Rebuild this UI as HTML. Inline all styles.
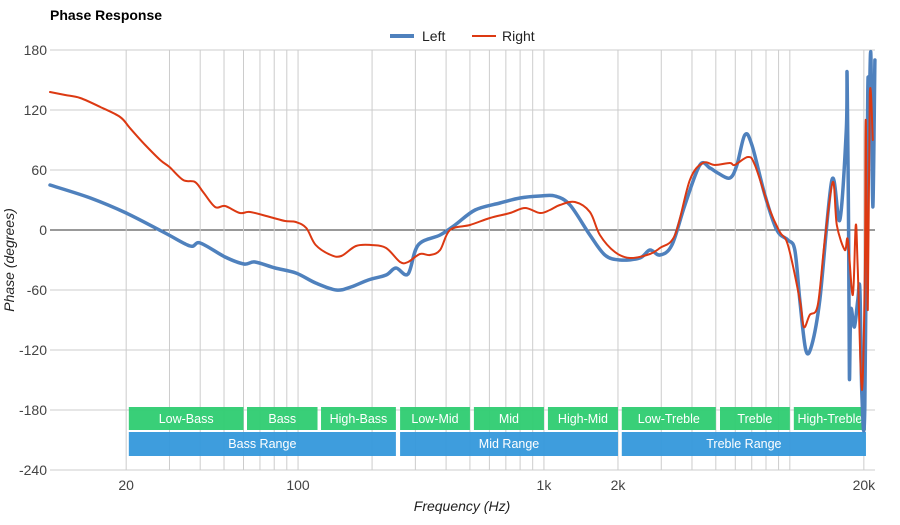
<!DOCTYPE html>
<html><head><meta charset="utf-8"><style>
body{margin:0;background:#fff;font-family:"Liberation Sans",Arial,sans-serif}
svg text{font-family:"Liberation Sans",Arial,sans-serif}
</style></head><body>
<svg id="chart" width="900" height="520" viewBox="0 0 900 520" xmlns="http://www.w3.org/2000/svg">
<rect width="900" height="520" fill="#fff"/>
<text x="50" y="20" font-size="14" font-weight="bold" fill="#000">Phase Response</text>
<g>
<line x1="390" y1="36" x2="414" y2="36" stroke="#4f81bd" stroke-width="4"/>
<text x="422" y="41" font-size="14" fill="#222">Left</text>
<line x1="472" y1="36" x2="496" y2="36" stroke="#dc3912" stroke-width="2"/>
<text x="502" y="41" font-size="14" fill="#222">Right</text>
</g>
<g id="grid"></g><g id="bands"></g><g id="series"></g><g id="labels"></g>
<text x="462" y="511" font-size="14" font-style="italic" text-anchor="middle" fill="#222">Frequency (Hz)</text>
<text transform="translate(14,260) rotate(-90)" font-size="14" font-style="italic" text-anchor="middle" fill="#222">Phase (degrees)</text>
</svg>
<script>
const yTicks=[180,120,60,0,-60,-120,-180,-240];
const xGridFreqs=[20,30,40,50,60,70,80,90,100,200,300,400,500,600,700,800,900,1000,2000,3000,4000,5000,6000,7000,8000,9000,10000,20000];
const xTickFreqs=[20,100,1000,2000,20000];
const xTickLabels=["20","100","1k","2k","20k"];
const bandNames=["Low-Bass","Bass","High-Bass","Low-Mid","Mid","High-Mid","Low-Treble","Treble","High-Treble"];
const bandStart=[20.5,62,124,260,519,1038,2073,5200,10380];
const bandEnd=[60,120,250,500,1000,2000,5000,10000,20400];
const rangeNames=["Bass Range","Mid Range","Treble Range"];
const rangeStart=[20.5,260,2073];
const rangeEnd=[250,2000,20400];
const leftFreq=[9.8,14.3,20,28.8,36.4,40,50.5,60.3,66.8,80.7,98,118,143,164,193,228,250,280,308,378,435,525,662,799,964,1109,1276,1538,1770,2036,2455,2698,2962,3315,3743,4306,4729,5094,5702,6094,6562,7012,7914,8851,9818,10476,10980,11610,12280,13240,14830,15970,16970,17090,17340,17460,17700,18300,18900,19270,19630,20180,20750,20950,21350,21740,22180];
const leftPhase=[45,32,17,-3,-16,-13,-27,-34,-32,-38,-43,-53,-60,-57,-50,-45,-38,-44,-15,-5,5,20,27,32,34,34,25,-5,-25,-30,-28,-20,-25,-15,25,65,62,57,52,65,95,85,35,0,-10,-20,-70,-120,-115,-70,50,10,100,155,0,-148,-80,-97,-70,-60,-165,-177,140,100,177,23,170];
const rightFreq=[9.8,11.3,13,15.7,18.9,20.7,23.9,27.5,30,34.1,38.1,41.1,46,50.5,58,63.8,76.9,88.6,98,108,118,136,150,172,198,228,260,280,313,344,378,415,500,603,728,838,964,1057,1161,1337,1538,1689,1944,2237,2698,2962,3411,3921,4430,4955,5702,5974,6751,7210,8293,9106,9818,10980,11400,12050,12990,13870,14960,15530,16730,17210,18040,18540,18890,19630,20180,20370,20750,21150,21740];
const rightPhase=[138,135,132,123,113,102,85,70,63,50,48,38,23,24,17,18,13,9,8,2,-15,-25,-26,-16,-15,-18,-32,-32,-24,-25,-20,0,5,12,17,22,17,20,25,28,18,-5,-22,-28,-24,-18,-5,50,67,65,67,65,73,65,20,-2,-15,-70,-97,-85,-75,-10,48,5,-20,-10,-65,5,-40,-160,-45,110,-80,135,90];

const L=50,R=875,T=50,B=470,fmin=9.8,fmax=22200,vmin=-240,vmax=180;
const xs=f=>L+(Math.log10(f)-Math.log10(fmin))/(Math.log10(fmax)-Math.log10(fmin))*(R-L);
const ys=v=>T+(vmax-v)/(vmax-vmin)*(B-T);
const NS="http://www.w3.org/2000/svg";
function mk(tag,attrs,parent){const e=document.createElementNS(NS,tag);for(const k in attrs)e.setAttribute(k,attrs[k]);parent.appendChild(e);return e;}
const grid=document.getElementById('grid'),bands=document.getElementById('bands'),series=document.getElementById('series'),labels=document.getElementById('labels');
yTicks.forEach(v=>{
  const ln=mk('line',{x1:L,x2:R,y1:ys(v),y2:ys(v),stroke:v===0?'#333':'#ccc','stroke-width':1},grid);
  
  
  const t=mk('text',{x:47,y:ys(v)+5,'font-size':14,'text-anchor':'end',fill:'#444'},labels);
  t.textContent=v;
  
  
});
xGridFreqs.forEach(f=>{
  const ln=mk('line',{x1:xs(f),x2:xs(f),y1:T,y2:B,stroke:'#ccc','stroke-width':1},grid);
  
  
});
xTickFreqs.forEach((f,i)=>{
  const t=mk('text',{x:xs(f),y:490,'font-size':14,'text-anchor':'middle',fill:'#444'},labels);
  t.textContent=xTickLabels[i];
  
  
});
bandNames.forEach((n,i)=>{
  const x1=xs(bandStart[i]),x2=xs(bandEnd[i]);
  const r=mk('rect',{x:x1,y:407,width:x2-x1,height:23,fill:'#2ecc71',opacity:0.95},bands);
  
  
  const t=mk('text',{x:(x1+x2)/2,y:423,'font-size':12.5,'text-anchor':'middle',fill:'#fff'},bands);
  t.textContent=n;
  
  
});
rangeNames.forEach((n,i)=>{
  const x1=xs(rangeStart[i]),x2=xs(rangeEnd[i]);
  const r=mk('rect',{x:x1,y:432,width:x2-x1,height:24,fill:'#3498db',opacity:0.95},bands);
  
  
  const t=mk('text',{x:(x1+x2)/2,y:448,'font-size':12.5,'text-anchor':'middle',fill:'#fff'},bands);
  t.textContent=n;
  
  
});
function line(fr,ph,color,w,name){
  const P=fr.map((f,i)=>[xs(f),ys(ph[i])]);
  let d='M'+P[0][0].toFixed(1)+','+P[0][1].toFixed(1);
  for(let i=0;i<P.length-1;i++){
    const p0=P[Math.max(0,i-1)],p1=P[i],p2=P[i+1],p3=P[Math.min(P.length-1,i+2)];
    const c1x=p1[0]+(p2[0]-p0[0])/6,c1y=p1[1]+(p2[1]-p0[1])/6;
    const c2x=p2[0]-(p3[0]-p1[0])/6,c2y=p2[1]-(p3[1]-p1[1])/6;
    d+=' C'+c1x.toFixed(1)+','+c1y.toFixed(1)+' '+c2x.toFixed(1)+','+c2y.toFixed(1)+' '+p2[0].toFixed(1)+','+p2[1].toFixed(1);
  }
  const p=mk('path',{d:d,fill:'none',stroke:color,'stroke-width':w,'stroke-linejoin':'round','stroke-linecap':'round'},series);
  
  
}
line(leftFreq,leftPhase,'#4f81bd',3.5,'left-series-line');
line(rightFreq,rightPhase,'#dc3912',2,'right-series-line');
</script>
</body></html>
